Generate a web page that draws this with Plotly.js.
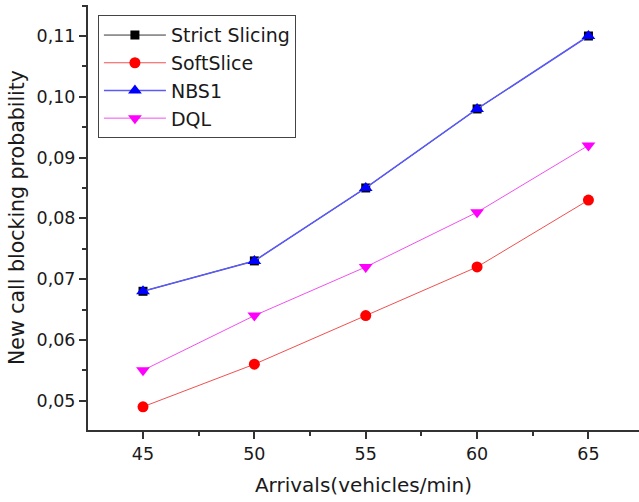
<!DOCTYPE html>
<html>
<head>
<meta charset="utf-8">
<script src="https://cdn.plot.ly/plotly-3.0.1.min.js"></script>
<style>html,body{margin:0;padding:0;background:#fff;}#chart{width:639px;height:502px;}</style>
</head>
<body>
<div id="chart"></div>
<script>
const arrivals = [45, 50, 55, 60, 65];
const strictSlicing = [0.068, 0.073, 0.085, 0.098, 0.110];
const softSlice = [0.049, 0.056, 0.064, 0.072, 0.083];
const nbs1 = [0.068, 0.073, 0.085, 0.098, 0.110];
const dql = [0.055, 0.064, 0.072, 0.081, 0.092];
const seriesNames = ["Strict Slicing", "SoftSlice", "NBS1", "DQL"];
const xTitle = "Arrivals(vehicles/min)";
const yTitle = "New call blocking probability";

function tr(name, y, color, lineColor, lineWidth, symbol, size) {
  return {
    x: arrivals, y: y, name: name, type: "scatter", mode: "lines+markers",
    line: {color: lineColor, width: lineWidth},
    marker: {color: color, symbol: symbol, size: size, line: {width: 0}}
  };
}
const data = [
  tr(seriesNames[0], strictSlicing, "#000000", "#000000", 0.8, "square", 9),
  tr(seriesNames[1], softSlice, "#ff0000", "#f05050", 1, "circle", 11),
  tr(seriesNames[2], nbs1, "#0000ff", "#5a5af5", 1.6, "triangle-up", 12),
  tr(seriesNames[3], dql, "#ff00ff", "#f050f0", 1, "triangle-down", 12)
];
const FONT = "DejaVu Sans, Liberation Sans, Arial, sans-serif";
const axisFont = {family: FONT, size: 17.5, color: "#1a1a1a"};
const layout = {
  width: 639, height: 502,
  margin: {l: 88, r: 0, t: 5, b: 72},
  paper_bgcolor: "#fff", plot_bgcolor: "#fff",
  separators: ",.",
  showlegend: true,
  legend: {
    x: 0.018, y: 0.976, xanchor: "left", yanchor: "top",
    bordercolor: "#444", borderwidth: 1, bgcolor: "#fff",
    font: {family: FONT, size: 19, color: "#1a1a1a"},
    itemwidth: 62, tracegroupgap: 0
  },
  xaxis: {
    range: [42.53, 67.27], tickvals: arrivals, ticktext: arrivals.map(String),
    ticks: "outside", ticklen: 7, tickwidth: 2, tickcolor: "#333",
    minor: {dtick: 2.5, tick0: 45, ticks: "outside", ticklen: 4, tickwidth: 2, tickcolor: "#333"},
    showline: true, linewidth: 2, linecolor: "#333", showgrid: false, zeroline: false,
    tickfont: axisFont,
    title: {text: xTitle, font: {family: FONT, size: 20, color: "#1a1a1a"}, standoff: 15}
  },
  yaxis: {
    range: [0.04518, 0.1151], dtick: 0.01, tick0: 0.05, tickformat: ".2f",
    ticks: "outside", ticklen: 7, tickwidth: 2, tickcolor: "#333",
    minor: {dtick: 0.005, tick0: 0.05, ticks: "outside", ticklen: 4, tickwidth: 2, tickcolor: "#333"},
    showline: true, linewidth: 2, linecolor: "#333", showgrid: false, zeroline: false,
    tickfont: axisFont,
    title: {text: yTitle, font: {family: FONT, size: 20.5, color: "#1a1a1a"}, standoff: 6}
  }
};
Plotly.newPlot("chart", data, layout, {displayModeBar: false, staticPlot: true});
</script>
</body>
</html>
